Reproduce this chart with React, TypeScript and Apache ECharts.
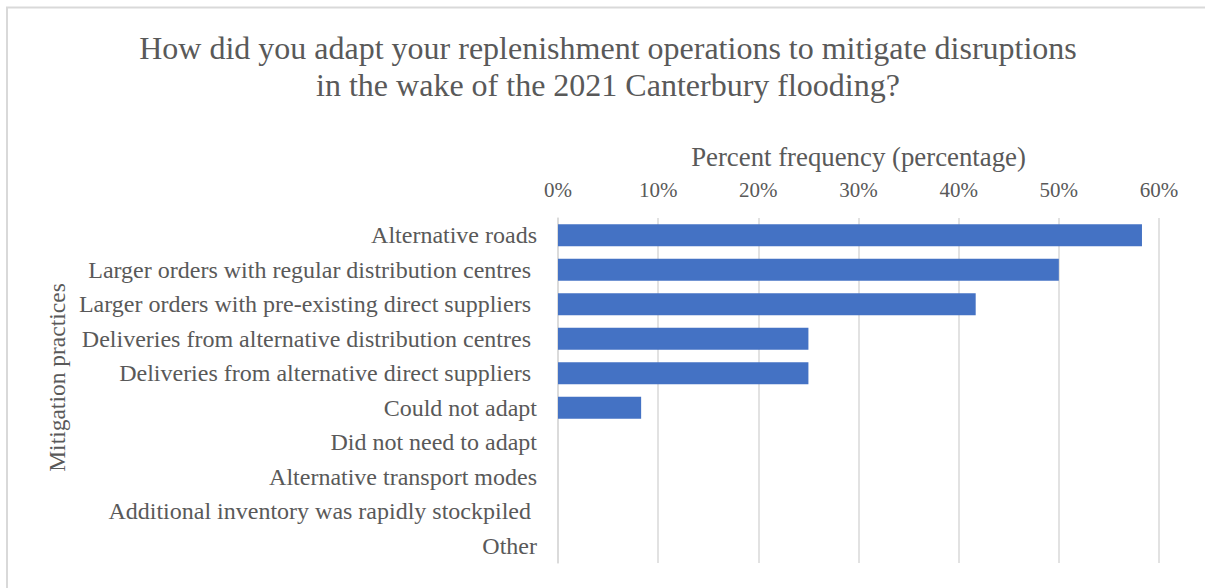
import React, { useEffect, useRef } from "react";
import * as echarts from "echarts";

const titleLines = [
  "How did you adapt your replenishment operations to mitigate disruptions",
  "in the wake of the 2021 Canterbury flooding?",
];

const categories = [
  "Alternative roads",
  "Larger orders with regular distribution centres ",
  "Larger orders with pre-existing direct suppliers ",
  "Deliveries from alternative distribution centres ",
  "Deliveries from alternative direct suppliers ",
  "Could not adapt",
  "Did not need to adapt",
  "Alternative transport modes",
  "Additional inventory was rapidly stockpiled ",
  "Other",
];

const percentValues = [58.3, 50, 41.7, 25, 25, 8.3, 0, 0, 0, 0];

const xAxisTitle = "Percent frequency (percentage)";
const yAxisTitle = "Mitigation practices";

const FONT = '"Liberation Serif", "Times New Roman", serif';
const TEXT = "#595959";
const GRID = "#d9d9d9";

export default function App() {
  const ref = useRef<HTMLDivElement>(null);

  useEffect(() => {
    if (!ref.current) return;
    const chart = echarts.init(ref.current, undefined, { renderer: "svg" });
    chart.setOption({
      animation: false,
      backgroundColor: "#ffffff",
      textStyle: { fontFamily: FONT, color: TEXT },
      graphic: [
        {
          // chart-area frame: only its left and top edges fall inside the view
          type: "polyline",
          shape: { points: [[7, 700], [7, 7.5], [1300, 7.5]] },
          style: { fill: "none", stroke: GRID, lineWidth: 2 },
          silent: true,
        },
      ],
      title: {
        text: titleLines.join("\n"),
        left: 608,
        top: 29,
        padding: 0,
        textAlign: "center",
        textStyle: {
          fontFamily: FONT,
          fontSize: 32,
          fontWeight: "normal",
          color: TEXT,
          lineHeight: 37,
        },
      },
      grid: { left: 558, right: 46, top: 218, bottom: 25, containLabel: false },
      xAxis: {
        type: "value",
        position: "top",
        min: 0,
        max: 60,
        interval: 10,
        name: xAxisTitle,
        nameLocation: "middle",
        nameGap: 48,
        nameTextStyle: { fontFamily: FONT, fontSize: 26.8, color: TEXT },
        axisLine: { show: false },
        axisTick: { show: false },
        axisLabel: {
          formatter: "{value}%",
          fontFamily: FONT,
          fontSize: 21,
          color: TEXT,
          margin: 18,
        },
        splitLine: { show: true, lineStyle: { color: GRID, width: 1.5 } },
      },
      yAxis: {
        type: "category",
        inverse: true,
        data: categories,
        name: yAxisTitle,
        nameLocation: "middle",
        nameRotate: 90,
        nameGap: 489,
        nameTextStyle: {
          fontFamily: FONT,
          fontSize: 23.5,
          color: TEXT,
          padding: [0, 0, 0, 26],
        },
        axisLine: { show: true, lineStyle: { color: GRID, width: 1.5 } },
        axisTick: { show: false },
        axisLabel: {
          fontFamily: FONT,
          fontSize: 24,
          color: TEXT,
          margin: 21,
        },
      },
      series: [
        {
          type: "bar",
          data: percentValues,
          barWidth: 22,
          itemStyle: { color: "#4472C4" },
        },
      ],
    });
    return () => chart.dispose();
  }, []);

  return (
    <div
      ref={ref}
      style={{ position: "fixed", left: 0, top: 0, width: 1205, height: 588 }}
    />
  );
}
